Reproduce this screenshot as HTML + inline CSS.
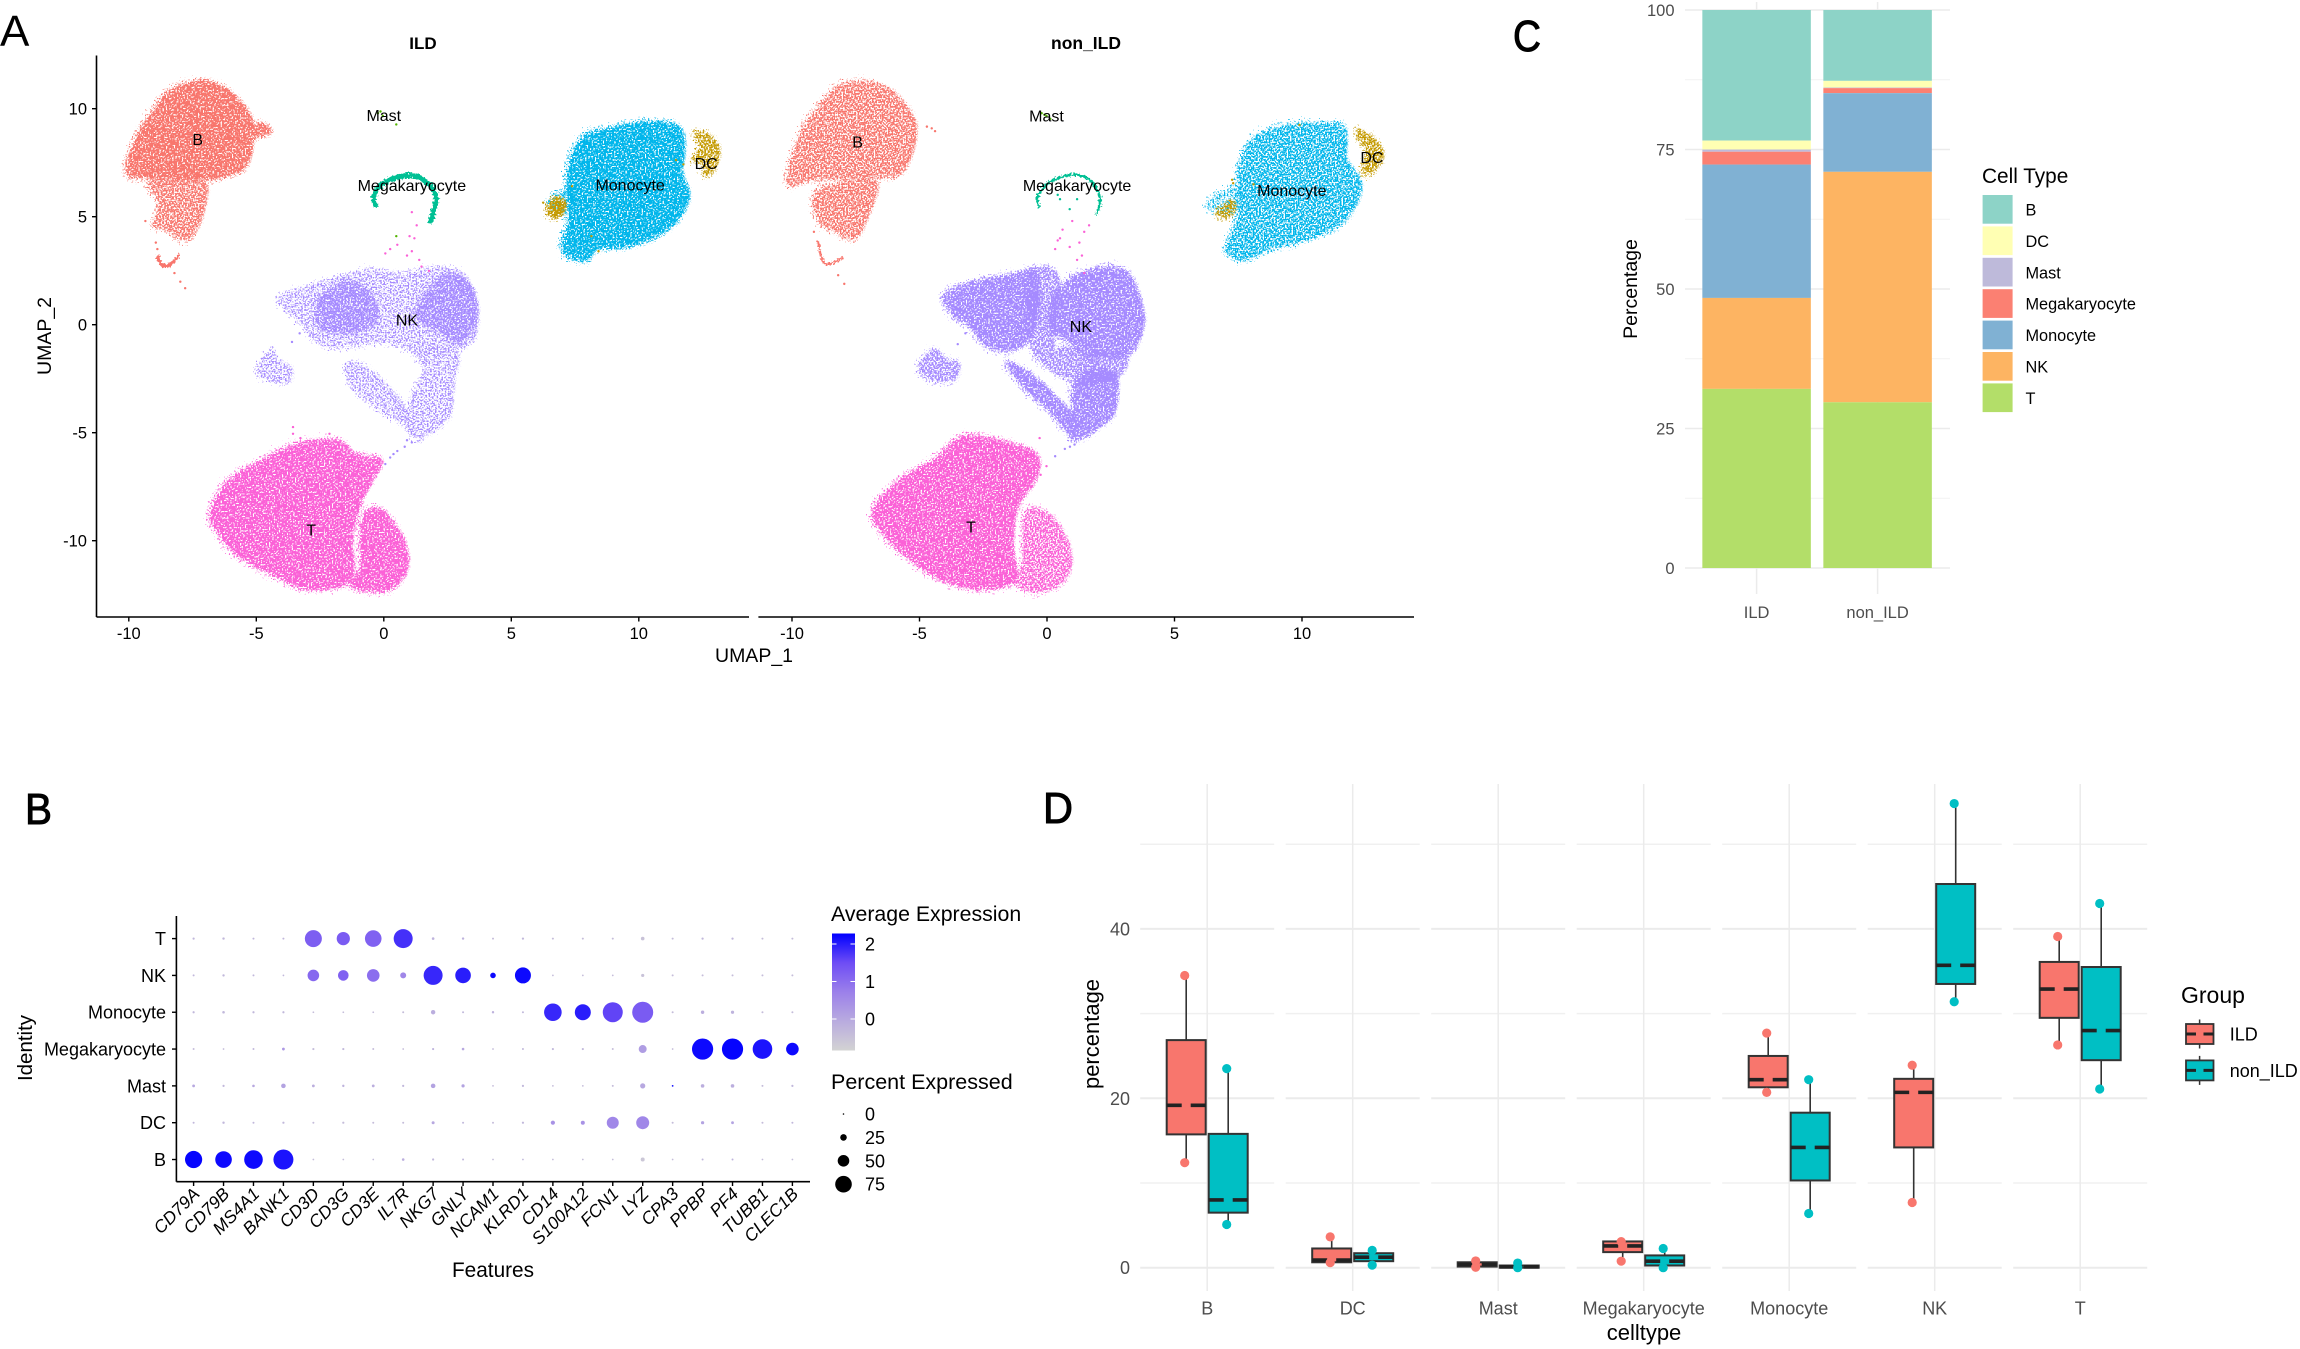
<!DOCTYPE html>
<html lang="en">
<head>
<meta charset="utf-8">
<title>ILD vs non-ILD single-cell figure</title>
<style>
html,body{margin:0;padding:0;background:#fff;width:2300px;height:1349px;overflow:hidden}
svg{display:block;font-family:"Liberation Sans",sans-serif}
</style>
</head>
<body>
<svg id="fig" xmlns="http://www.w3.org/2000/svg" width="2300" height="1349" viewBox="0 0 2300 1349">
<defs>
<filter id="sp-d" x="-10%" y="-10%" width="120%" height="120%" color-interpolation-filters="sRGB">
<feTurbulence type="fractalNoise" baseFrequency="0.62" numOctaves="1" seed="4" result="n"/>
<feDisplacementMap in="SourceGraphic" in2="n" scale="16" xChannelSelector="R" yChannelSelector="G" result="d"/>
<feColorMatrix in="n" type="matrix" values="0 0 0 0 0 0 0 0 0 0 0 0 0 0 0 9 0 0 0 -3.1" result="m"/>
<feComposite in="d" in2="m" operator="in"/>
</filter>
<filter id="sp-m" x="-10%" y="-10%" width="120%" height="120%" color-interpolation-filters="sRGB">
<feTurbulence type="fractalNoise" baseFrequency="0.62" numOctaves="1" seed="9" result="n"/>
<feDisplacementMap in="SourceGraphic" in2="n" scale="16" xChannelSelector="R" yChannelSelector="G" result="d"/>
<feColorMatrix in="n" type="matrix" values="0 0 0 0 0 0 0 0 0 0 0 0 0 0 0 9 0 0 0 -3.7" result="m"/>
<feComposite in="d" in2="m" operator="in"/>
</filter>
<filter id="sp-s" x="-10%" y="-10%" width="120%" height="120%" color-interpolation-filters="sRGB">
<feTurbulence type="fractalNoise" baseFrequency="0.62" numOctaves="1" seed="15" result="n"/>
<feDisplacementMap in="SourceGraphic" in2="n" scale="16" xChannelSelector="R" yChannelSelector="G" result="d"/>
<feColorMatrix in="n" type="matrix" values="0 0 0 0 0 0 0 0 0 0 0 0 0 0 0 9 0 0 0 -4.3" result="m"/>
<feComposite in="d" in2="m" operator="in"/>
</filter>
<filter id="sp-h" x="-15%" y="-15%" width="130%" height="130%" color-interpolation-filters="sRGB">
<feTurbulence type="fractalNoise" baseFrequency="0.62" numOctaves="1" seed="21" result="n"/>
<feDisplacementMap in="SourceGraphic" in2="n" scale="18" xChannelSelector="R" yChannelSelector="G" result="d"/>
<feColorMatrix in="n" type="matrix" values="0 0 0 0 0 0 0 0 0 0 0 0 0 0 0 9 0 0 0 -4.8" result="m"/>
<feComposite in="d" in2="m" operator="in"/>
</filter>
<filter id="rough" x="-15%" y="-15%" width="130%" height="130%" color-interpolation-filters="sRGB">
<feTurbulence type="fractalNoise" baseFrequency="0.5" numOctaves="1" seed="2" result="n"/>
<feDisplacementMap in="SourceGraphic" in2="n" scale="6" xChannelSelector="R" yChannelSelector="G"/>
</filter>
<linearGradient id="expGrad" x1="0" y1="1" x2="0" y2="0">
<stop offset="0" stop-color="#D3D3D3"/>
<stop offset="0.25" stop-color="#B9ABDF"/>
<stop offset="0.5" stop-color="#9B80EA"/>
<stop offset="0.75" stop-color="#6E4DF5"/>
<stop offset="1" stop-color="#0000FF"/>
</linearGradient>
</defs>

<!-- Panel letters -->
<text x="0" y="46" font-size="44" fill="#000">A</text>
<text x="25" y="824" font-size="44" fill="#000" stroke="#000" stroke-width="1" textLength="27" lengthAdjust="spacingAndGlyphs">B</text>
<text x="1513" y="51" font-size="44" fill="#000" stroke="#000" stroke-width="1" textLength="28" lengthAdjust="spacingAndGlyphs">C</text>
<text x="1043" y="823" font-size="44" fill="#000" stroke="#000" stroke-width="1" textLength="30" lengthAdjust="spacingAndGlyphs">D</text>

<!-- Panel A static -->
<g id="panelA">
<text x="423" y="49" font-size="17" font-weight="bold" text-anchor="middle">ILD</text>
<text x="1086" y="49" font-size="17.5" font-weight="bold" text-anchor="middle">non_ILD</text>
<text x="754" y="662" font-size="19.5" text-anchor="middle">UMAP_1</text>
<text transform="translate(51,336) rotate(-90)" font-size="19.5" text-anchor="middle">UMAP_2</text>
<g id="umapLeft"></g>
<g id="umapRight"></g>
</g>

<!-- Panel B static -->
<g id="panelB">
<text x="493" y="1277" font-size="20.8" text-anchor="middle">Features</text>
<text transform="translate(32,1048) rotate(-90)" font-size="20.5" text-anchor="middle">Identity</text>
<text x="831" y="921" font-size="21.3">Average Expression</text>
<rect x="832" y="933.5" width="23" height="117" fill="url(#expGrad)"/>
<text x="831" y="1089" font-size="21.5">Percent Expressed</text>
<g id="dotPlot"></g>
</g>

<!-- Panel C static -->
<g id="panelC">
<text transform="translate(1637,289) rotate(-90)" font-size="19.5" text-anchor="middle">Percentage</text>
<text x="1982" y="183" font-size="20.8">Cell Type</text>
<g id="stackPlot"></g>
</g>

<!-- Panel D static -->
<g id="panelD">
<text transform="translate(1099,1034) rotate(-90)" font-size="22" text-anchor="middle">percentage</text>
<text x="1644" y="1340" font-size="22" text-anchor="middle">celltype</text>
<text x="2181" y="1003" font-size="23">Group</text>
<g id="boxPlot"></g>
</g>
</svg>

<script>
// ---------- Panel A: UMAP cluster footprints, in UMAP units ----------
const umapColors = {B:'#F8766D',DC:'#C49A00',Mast:'#53B400',Megakaryocyte:'#00C094',Monocyte:'#00B6EB',NK:'#A58AFF',T:'#FB61D7'};
const umapAxisTicks = [-10,-5,0,5,10];

const ildBMain = [[-10.08,7.22],[-9.96,7.92],[-9.54,9.03],[-8.97,10.03],[-8.40,10.83],[-7.45,11.28],[-6.69,11.24],[-5.93,10.73],[-5.36,10.03],[-5.02,9.33],[-4.70,9.33],[-4.35,8.96],[-4.70,8.72],[-5.08,8.58],[-5.17,7.82],[-5.55,7.12],[-6.69,6.71],[-7.45,6.77],[-8.59,6.77],[-9.16,6.81],[-9.83,6.81]];
const ildBLower = [[-9.16,6.71],[-7.07,6.71],[-6.98,5.41],[-7.45,4.10],[-7.93,3.96],[-8.50,4.40],[-9.01,4.60],[-8.78,5.61]];
const ildMono = [[7.00,3.60],[7.28,5.01],[7.19,7.02],[7.76,8.62],[8.90,9.13],[10.42,9.43],[11.56,9.23],[11.84,8.42],[11.75,7.02],[12.03,6.01],[11.56,4.80],[10.61,4.00],[9.47,3.56],[8.42,3.50],[8.04,2.99],[7.38,3.04]];
const ildMonoNub = [[6.43,5.71],[7.09,6.21],[7.57,6.21],[7.28,5.01],[6.81,5.41]];
const ildDcRight = [[12.22,8.92],[12.89,8.72],[13.23,8.02],[12.98,7.12],[12.60,6.91],[12.51,7.52],[12.13,7.62],[12.41,8.22]];
const ildDcLeft = [[6.43,5.45],[6.81,5.91],[7.19,5.61],[7.0,5.11],[6.71,4.90],[6.43,5.21]];
const ildNkTop = [[-3.99,1.29],[-2.51,1.89],[-0.61,2.49],[0.72,2.35],[2.43,2.63],[3.29,2.19],[3.67,0.98],[3.76,0.18],[3.48,-0.82],[2.43,-1.23],[1.29,-1.23],[0.15,-0.82],[-1.75,-1.03],[-2.51,-0.82],[-3.27,0.18],[-3.84,0.78]];
const ildNkLobeL = [[-2.51,1.19],[-1.37,1.99],[-0.42,1.39],[-0.23,0.18],[-1.37,-0.42],[-2.51,-0.02]];
const ildNkLobeR = [[1.67,1.39],[2.62,2.39],[3.48,1.79],[3.73,0.38],[3.0,-0.82],[2.05,-0.22],[1.29,0.38]];
const ildNkLeftArm = [[-1.37,-1.83],[-0.61,-2.03],[0.72,-3.54],[0.91,-4.44],[0.15,-4.14],[-1.18,-2.83]];
const ildNkRightArm = [[1.29,-1.23],[2.91,-1.23],[2.81,-2.63],[2.62,-4.24],[1.67,-5.15],[1.29,-5.25],[0.91,-4.44],[1.29,-3.04],[1.67,-2.03]];
const ildNkIsland = [[-4.89,-2.03],[-4.32,-1.13],[-4.13,-1.63],[-3.56,-2.03],[-3.65,-2.63],[-4.13,-2.63],[-4.70,-2.43]];
const ildTLeft = [[-6.79,-8.66],[-6.12,-7.26],[-4.79,-6.25],[-3.27,-5.45],[-1.75,-5.35],[-1.08,-5.95],[-0.04,-6.25],[-0.42,-7.26],[-0.89,-8.36],[-1.18,-9.87],[-1.27,-11.88],[-2.89,-12.28],[-4.22,-11.68],[-5.74,-10.67],[-6.60,-9.47]];
const ildTRight = [[-0.70,-8.66],[-0.04,-8.56],[0.72,-9.67],[1.01,-10.87],[0.72,-11.88],[-0.04,-12.38],[-1.27,-12.12],[-0.89,-11.08],[-0.95,-9.87]];
const ildMegaArc = [[-0.32,5.45],[-0.38,6.01],[0.06,6.61],[1.01,6.91],[1.67,6.61],[2.05,5.91],[1.92,5.11],[1.83,4.70]];
const ildBHook = [[-8.88,3.20],[-8.75,2.85],[-8.45,2.72],[-8.0,3.24]];

const ildStrayT = [[1.10,5.21],[1.29,4.60],[1.01,4.10],[0.53,3.70],[0.25,3.50],[1.10,3.40],[1.39,3.0],[1.48,2.69],[0.91,3.20],[1.2,4.0],[0.06,3.30],[1.77,2.49],[-3.56,-4.74],[-3.56,-5.05],[-3.27,-5.25],[-2.13,-5.05]];
const ildStrayMast = [[-0.23,9.79],[-0.04,9.67],[0.49,9.27],[-0.13,9.87],[0.49,4.10]];
const ildStrayNk = [[1.10,-5.45],[0.82,-5.65],[0.53,-5.85],[0.25,-6.15],[0.06,-6.45],[0.91,-5.35],[0.38,-5.99],[-3.3,-0.4],[-3.6,-0.8]];
const ildStrayB = [[-9.35,4.8],[-8.94,3.80],[-8.88,3.50],[-8.21,2.39],[-7.98,1.99],[-7.79,1.69]];
const ildStrayDc = [[8.42,3.40],[8.14,4.10],[7.38,6.41],[11.75,7.42],[11.46,7.62],[6.25,5.65]];

const nonBMain = [[-10.10,7.22],[-9.56,9.03],[-8.99,10.03],[-8.14,11.04],[-6.90,11.24],[-5.95,10.73],[-5.19,9.63],[-5.10,8.62],[-5.57,7.12],[-6.52,6.81],[-9.18,6.71],[-10.04,6.41]];
const nonBLower = [[-8.99,6.21],[-6.71,6.71],[-6.90,5.21],[-7.47,4.0],[-8.23,4.30],[-8.90,4.80]];
const nonMono = [[7.07,3.60],[7.55,5.21],[7.55,7.22],[8.12,8.62],[9.45,9.23],[10.78,9.33],[11.73,9.13],[11.83,7.62],[12.40,6.41],[11.73,4.80],[10.40,4.0],[8.88,3.50],[7.74,2.99],[7.17,3.30]];
const nonMonoNub = [[6.31,5.57],[7.55,6.41],[7.55,5.21],[6.98,5.21]];
const nonDcRight = [[12.21,9.03],[12.87,8.62],[13.25,7.82],[12.78,7.02],[12.40,7.12],[12.59,8.02],[12.27,8.62]];
const nonDcLeft = [[6.69,5.21],[7.26,5.71],[7.45,5.41],[7.07,4.90],[6.79,5.01]];
const nonNkLobeL = [[-4.05,1.39],[-2.91,1.99],[-1.20,2.39],[-0.44,2.49],[-0.25,0.98],[-0.63,-0.62],[-1.39,-1.23],[-2.34,-1.03],[-3.10,-0.02],[-3.67,0.38]];
const nonNkLobeR = [[0.32,1.39],[1.27,2.39],[2.60,2.69],[3.37,2.19],[3.84,0.58],[3.75,-0.42],[3.17,-1.43],[1.46,-1.43],[0.89,-0.82],[0.13,-0.22]];
const nonNkLowerR = [[1.08,-2.63],[2.03,-2.03],[2.79,-2.43],[2.70,-4.04],[2.22,-4.64],[1.27,-5.35],[0.89,-5.05],[0.99,-3.84]];
const nonNkLeftArm = [[-1.58,-1.73],[-0.63,-2.23],[0.32,-3.24],[1.08,-4.24],[0.89,-5.05],[0.13,-4.04],[-0.82,-3.04]];
const nonNkBridge = [[-0.63,2.39],[0.51,2.19],[0.32,-1.03],[0.89,-1.03],[2.79,-2.43],[1.27,-2.63],[0.13,-2.03],[-0.63,-0.82]];
const nonNkLink = [[1.46,-1.43],[3.17,-1.43],[2.79,-2.43],[1.5,-2.4]];
const nonNkIsland = [[-5.0,-1.93],[-4.43,-1.13],[-3.86,-1.63],[-3.38,-1.83],[-3.57,-2.53],[-4.24,-2.63],[-4.71,-2.43]];
const nonTLeft = [[-6.81,-8.56],[-5.76,-7.16],[-4.43,-6.25],[-3.29,-5.15],[-1.77,-5.35],[-0.34,-6.01],[-0.44,-7.26],[-1.10,-8.46],[-1.29,-10.27],[-1.20,-11.88],[-2.53,-12.28],[-4.05,-11.88],[-5.38,-10.87],[-6.43,-9.67]];
const nonTRight = [[-0.82,-8.66],[0.13,-8.76],[0.89,-10.07],[0.99,-11.28],[0.51,-12.08],[-0.44,-12.38],[-1.20,-11.98],[-0.91,-10.87]];
const nonMegaArc = [[-0.29,5.41],[-0.38,5.91],[0.13,6.61],[1.08,6.95],[1.75,6.61],[2.09,5.81],[1.94,5.11]];
const nonBHook = [[-8.99,3.90],[-8.84,3.10],[-8.61,2.79],[-8.0,3.10]];

const nonStrayT = [[0.32,3.50],[0.42,3.90],[0.61,4.40],[0.99,4.80],[1.46,4.30],[1.27,3.80],[1.37,3.20],[1.18,3.0],[1.46,2.39],[0.51,4.0],[0.89,3.60],[1.65,4.60],[-0.29,-5.25],[-0.02,-6.55],[-0.25,-6.95]];
const nonStrayMast = [[-0.21,9.79],[-0.02,9.67],[0.13,9.53],[-0.1,9.72]];
const nonStrayMega = [[0.51,5.81],[0.89,5.35],[1.18,5.81],[0.42,6.01]];
const nonStrayNk = [[1.08,-5.55],[0.70,-5.75],[0.32,-6.09],[0.9,-5.65],[-3.2,-0.4],[-3.5,-0.9]];
const nonStrayB = [[-4.71,9.17],[-4.52,9.09],[-4.39,8.96],[-8.19,2.29],[-7.95,1.89],[-9.14,4.30]];
const nonStrayDc = [[7.26,6.71],[7.3,6.55],[9.9,9.25],[8.1,6.5]];

const ildLayers = [[ildNkTop,'NK','s'],[ildNkLeftArm,'NK','s'],[ildNkRightArm,'NK','s'],[ildNkIsland,'NK','s'],[ildNkLobeL,'NK','m'],[ildNkLobeR,'NK','m'],[ildBMain,'B','d'],[ildBLower,'B','m'],[ildMono,'Monocyte','d'],[ildMonoNub,'Monocyte','s'],[ildDcRight,'DC','m'],[ildDcLeft,'DC','d'],[ildTLeft,'T','d'],[ildTRight,'T','d']];
const nonLayers = [[nonNkBridge,'NK','m'],[nonNkLink,'NK','m'],[nonNkIsland,'NK','m'],[nonNkLeftArm,'NK','d'],[nonNkLobeL,'NK','d'],[nonNkLobeR,'NK','d'],[nonNkLowerR,'NK','d'],[nonBMain,'B','m'],[nonBLower,'B','m'],[nonMono,'Monocyte','m'],[nonMonoNub,'Monocyte','s'],[nonDcRight,'DC','m'],[nonDcLeft,'DC','m'],[nonTLeft,'T','d'],[nonTRight,'T','m']];
const ildArcs = [[ildMegaArc,'Megakaryocyte',5],[ildBHook,'B',3.5]];
const nonArcs = [[nonMegaArc,'Megakaryocyte',2.6],[nonBHook,'B',2.2]];
const ildStrays = [[ildStrayT,'T'],[ildStrayMast,'Mast'],[ildStrayNk,'NK'],[ildStrayB,'B'],[ildStrayDc,'DC']];
const nonStrays = [[nonStrayT,'T'],[nonStrayMast,'Mast'],[nonStrayMega,'Megakaryocyte'],[nonStrayNk,'NK'],[nonStrayB,'B'],[nonStrayDc,'DC']];
const umapLabelNames = ['B','Mast','Megakaryocyte','Monocyte','DC','NK','T'];
const ildLabelAt = [[-7.3,8.52],[0,9.63],[1.1,6.39],[9.66,6.41],[12.64,7.42],[0.91,0.16],[-2.85,-9.55]];
const nonLabelAt = [[-7.43,8.42],[-0.02,9.61],[1.18,6.39],[9.6,6.17],[12.74,7.7],[1.33,-0.12],[-2.98,-9.41]];

// ---------- Panel B: dot plot ----------
const dotFeatures = ['CD79A','CD79B','MS4A1','BANK1','CD3D','CD3G','CD3E','IL7R','NKG7','GNLY','NCAM1','KLRD1','CD14','S100A12','FCN1','LYZ','CPA3','PPBP','PF4','TUBB1','CLEC1B'];
const dotIdentities = ['T','NK','Monocyte','Megakaryocyte','Mast','DC','B'];
const dotPct = [
[3,4,2,2,77,58,75,87,5,4,2,3,2,2,2,10,2,3,3,2,2],
[2,4,2,1,50,45,55,22,87,70,20,72,1,1,1,8,2,2,2,2,2],
[3,5,3,3,1,1,1,2,14,2,4,2,80,72,92,97,2,9,8,2,2],
[2,1,2,6,3,3,2,1,3,5,1,2,3,3,2,32,1,98,98,90,55],
[6,3,5,15,6,4,6,3,15,8,1,3,1,1,2,18,1,10,10,2,3],
[2,4,2,3,2,3,2,2,7,2,2,3,13,12,52,57,2,8,6,2,2],
[78,75,85,92,1,1,1,5,3,2,1,1,1,1,1,12,1,2,2,1,1]
];
const dotExp = [
[-.3,-.3,-.3,-.3,1.25,1.3,1.2,1.8,-.2,-.2,-.4,-.3,-.4,-.4,-.4,-.5,-.4,-.3,-.3,-.4,-.4],
[-.3,-.3,-.3,-.3,1.1,1.2,1.0,.6,1.9,2.0,2.2,2.2,-.4,-.4,-.4,-.5,-.4,-.4,-.4,-.4,-.4],
[-.3,-.3,-.3,-.3,-.4,-.4,-.4,-.4,-.1,-.3,-.2,-.3,1.9,2.0,1.6,1.3,-.4,-.1,-.2,-.4,-.4],
[-.4,-.4,-.3,.3,-.4,-.3,-.4,-.4,-.2,0,-.4,-.3,-.3,-.3,-.4,.2,-.4,2.2,2.25,2.1,2.2],
[0,-.3,0,.1,-.1,-.2,-.1,-.3,.1,.1,-.4,-.3,-.4,-.4,-.4,0,2.2,-.1,-.1,-.4,-.3],
[-.3,-.3,-.3,-.3,-.4,-.4,-.4,-.4,0,-.3,-.4,-.3,.4,.4,.6,.6,-.4,.1,.1,-.4,-.3],
[2.25,2.2,2.2,2.1,-.4,-.4,-.4,-.1,-.3,-.3,-.4,-.3,-.4,-.4,-.4,-.6,-.4,-.3,-.2,-.4,-.4]
];
const expTicks = [2,1,0];
const pctLegend = [0,25,50,75];

// ---------- Panel C: stacked bars ----------
const stackCats = ['ILD','non_ILD'];
const stackTypes = ['B','DC','Mast','Megakaryocyte','Monocyte','NK','T'];
const stackIld = [23.4,1.6,0.4,2.3,23.9,16.3,32.1];
const stackNon = [12.7,1.2,0.1,0.9,14.1,41.3,29.7];
const stackColors = ['#8DD3C7','#FFFFB3','#BEBADA','#FB8072','#80B1D3','#FDB462','#B3DE69'];
const stackTicks = [0,25,50,75,100];
const stackMinor = [12.5,37.5,62.5,87.5];

// ---------- Panel D: box plots ----------
const boxCats = ['B','DC','Mast','Megakaryocyte','Monocyte','NK','T'];
const boxTicks = [0,20,40];
const boxMinor = [10,30,50];
const ildMin = [12.4,0.6,0.05,0.77,20.7,7.7,26.3];
const ildQ1 = [15.74,0.64,0.13,1.84,21.3,14.2,29.5];
const ildMed = [19.17,0.9,0.39,2.57,22.2,20.7,32.9];
const ildQ3 = [26.87,2.27,0.64,3.1,25,22.3,36.1];
const ildMax = [34.5,3.64,0.8,3.08,27.7,23.9,39.1];
const nonMin = [5.1,0.3,0,0,6.4,31.4,21.1];
const nonQ1 = [6.5,0.77,0,0.26,10.3,33.5,24.5];
const nonMed = [8,1.24,0.1,0.77,14.2,35.7,28];
const nonQ3 = [15.8,1.71,0.26,1.45,18.3,45.3,35.5];
const nonMax = [23.5,2.05,0.55,2.27,22.2,54.8,43];
const boxGroups = ['ILD','non_ILD'];
const boxColors = ['#F8766D','#00BFC4'];

// ---------- helpers ----------
const NS = 'http://www.w3.org/2000/svg';
function mk(parent, tag, attrs, txt){
  const e = document.createElementNS(NS, tag);
  for (const k in attrs) e.setAttribute(k, attrs[k]);
  if (txt !== undefined) e.textContent = txt;
  parent.appendChild(e);
  return e;
}
function smooth(p, closed){
  const n = p.length;
  const at = i => closed ? p[(i+n)%n] : p[Math.max(0,Math.min(n-1,i))];
  let d = 'M'+p[0][0].toFixed(1)+' '+p[0][1].toFixed(1);
  const last = closed ? n : n-1;
  for (let i=0;i<last;i++){
    const a=at(i-1), b=at(i), c=at(i+1), e=at(i+2);
    d += 'C'+(b[0]+(c[0]-a[0])/6).toFixed(1)+' '+(b[1]+(c[1]-a[1])/6).toFixed(1)+' '+(c[0]-(e[0]-b[0])/6).toFixed(1)+' '+(c[1]-(e[1]-b[1])/6).toFixed(1)+' '+c[0].toFixed(1)+' '+c[1].toFixed(1);
  }
  return d + (closed?'Z':'');
}

// ---------- draw Panel A ----------
const umapY = v => 324.7 - 21.6*v;
function drawUmap(g, x0, axisStart, axisEnd, layers, arcs, strays, labelAt, panelKey, drawYAxis){
  const xs = u => x0 + 25.5*u;
  for (const [pts,type,den] of layers){
    const d = smooth(pts.map(q=>[xs(q[0]),umapY(q[1])]),true);
    const h = mk(g,'path',{d:d,fill:'none',stroke:umapColors[type],'stroke-width':5,filter:'url(#sp-h)'});
    
    
    const p = mk(g,'path',{d:d,fill:umapColors[type],filter:'url(#sp-'+den+')'});
    
    
  }
  for (const [pts,type,w] of arcs){
    const p = mk(g,'path',{d:smooth(pts.map(q=>[xs(q[0]),umapY(q[1])]),false),fill:'none',stroke:umapColors[type],'stroke-width':w,filter:'url(#rough)'});
    
    
  }
  for (const [pts,type] of strays){
    for (const q of pts){
      const c = mk(g,'circle',{cx:xs(q[0]),cy:umapY(q[1]),r:1.2,fill:umapColors[type]});
      
      
    }
  }
  umapLabelNames.forEach((name,i)=>{
    const t = mk(g,'text',{x:xs(labelAt[i][0]),y:umapY(labelAt[i][1]),'font-size':16,'text-anchor':'middle','dominant-baseline':'central',fill:'#000'},name);
    
    
  });
  const ax = mk(g,'line',{x1:axisStart,x2:axisEnd,y1:617,y2:617,stroke:'#000','stroke-width':1.6});
  
  
  umapAxisTicks.forEach(v=>{
    const tk = mk(g,'line',{x1:xs(v),x2:xs(v),y1:617,y2:621.5,stroke:'#000','stroke-width':1.4});
    
    
    const t = mk(g,'text',{x:xs(v),y:639,'font-size':16.5,'text-anchor':'middle',fill:'#000'},String(v));
    
    
  });
  if (drawYAxis){
    const ay = mk(g,'line',{x1:96.5,x2:96.5,y1:55.5,y2:617,stroke:'#000','stroke-width':1.6});
    
    
    umapAxisTicks.forEach(v=>{
      const tk = mk(g,'line',{x1:92,x2:96.5,y1:umapY(v),y2:umapY(v),stroke:'#000','stroke-width':1.4});
      
      
      const t = mk(g,'text',{x:87,y:umapY(v)+6,'font-size':16.5,'text-anchor':'end',fill:'#000'},String(v));
      
      
    });
  }
}
drawUmap(document.getElementById('umapLeft'),383.8,96.5,749,ildLayers,ildArcs,ildStrays,ildLabelAt,'ild',true);
drawUmap(document.getElementById('umapRight'),1047,758.4,1414,nonLayers,nonArcs,nonStrays,nonLabelAt,'non-ild',false);

// ---------- draw Panel B ----------
(function(){
  const g = document.getElementById('dotPlot');
  const xd = i => 193.6 + 29.94*i;
  const yd = j => 938.6 + 36.82*j;
  const stops = [[211,211,211],[185,171,223],[155,128,234],[110,77,245],[0,0,255]];
  function expColor(v){
    const t = Math.max(0,Math.min(1,(v+0.83)/3.12))*4;
    const i = Math.min(3,Math.floor(t)), f = t-i;
    const c = stops[i].map((s,k)=>Math.round(s+(stops[i+1][k]-s)*f));
    return 'rgb('+c.join(',')+')';
  }
  const rad = p => 0.8 + 0.1*p;
  dotIdentities.forEach((id,j)=>{
    dotFeatures.forEach((f,i)=>{
      const c = mk(g,'circle',{cx:xd(i),cy:yd(j),r:rad(dotPct[j][i]),fill:expColor(dotExp[j][i])});
      
      
    });
    const tk = mk(g,'line',{x1:172,x2:176.4,y1:yd(j),y2:yd(j),stroke:'#000','stroke-width':1.4});
    
    
    const t = mk(g,'text',{x:166,y:yd(j)+6.5,'font-size':18,'text-anchor':'end',fill:'#000'},id);
    
    
  });
  dotFeatures.forEach((f,i)=>{
    const tk = mk(g,'line',{x1:xd(i),x2:xd(i),y1:1181.7,y2:1186,stroke:'#000','stroke-width':1.4});
    
    
    const t = mk(g,'text',{transform:'translate('+(xd(i)+7)+',1195) rotate(-45)','font-size':17.5,'font-style':'italic','text-anchor':'end',fill:'#000'},f);
    
    
  });
  const ay = mk(g,'line',{x1:176.4,x2:176.4,y1:916,y2:1181.7,stroke:'#000','stroke-width':1.6});
  
  
  const ax = mk(g,'line',{x1:176.4,x2:810,y1:1181.7,y2:1181.7,stroke:'#000','stroke-width':1.6});
  
  
  const cbY = v => 1019 - 37.5*v;
  expTicks.forEach(v=>{
    const a = mk(g,'line',{x1:832,x2:836.5,y1:cbY(v),y2:cbY(v),stroke:'#fff','stroke-width':1});
    
    
    const b = mk(g,'line',{x1:850.5,x2:855,y1:cbY(v),y2:cbY(v),stroke:'#fff','stroke-width':1});
    
    
    const t = mk(g,'text',{x:865,y:cbY(v)+6.5,'font-size':18,fill:'#000'},String(v));
    
    
  });
  pctLegend.forEach((p,i)=>{
    const yy = 1114 + 23.4*i;
    const c = mk(g,'circle',{cx:843.5,cy:yy,r:rad(p),fill:'#000'});
    
    
    const t = mk(g,'text',{x:865,y:yy+6.5,'font-size':18,fill:'#000'},String(p));
    
    
  });
})();

// ---------- draw Panel C ----------
(function(){
  const g = document.getElementById('stackPlot');
  const ys = v => 568 - 5.58*v;
  const centers = [1756.6,1877.6];
  const barW = 108.5;
  stackMinor.forEach(v=>{
    const l = mk(g,'line',{x1:1685,x2:1950,y1:ys(v),y2:ys(v),stroke:'#f2f2f2','stroke-width':1});
    
    
  });
  stackTicks.forEach(v=>{
    const l = mk(g,'line',{x1:1685,x2:1950,y1:ys(v),y2:ys(v),stroke:'#ebebeb','stroke-width':1.5});
    
    
    const t = mk(g,'text',{x:1674.5,y:ys(v)+6,'font-size':16.5,'text-anchor':'end',fill:'#4d4d4d'},String(v));
    
    
  });
  stackCats.forEach((cat,i)=>{
    const l = mk(g,'line',{x1:centers[i],x2:centers[i],y1:2,y2:594,stroke:'#ebebeb','stroke-width':1.5});
    
    
    const t = mk(g,'text',{x:centers[i],y:618,'font-size':16.5,'text-anchor':'middle',fill:'#4d4d4d'},cat);
    
    
  });
  [stackIld,stackNon].forEach((vals,i)=>{
    let top = 100;
    vals.forEach((v,k)=>{
      const r = mk(g,'rect',{x:centers[i]-barW/2,y:ys(top),width:barW,height:5.58*v,fill:stackColors[k]});
      
      
      top -= v;
    });
  });
  stackTypes.forEach((name,k)=>{
    const yy = 195 + 31.4*k;
    const r = mk(g,'rect',{x:1982.6,y:yy,width:30,height:28.7,fill:stackColors[k]});
    
    
    const t = mk(g,'text',{x:2025.5,y:yy+20.5,'font-size':16.3,fill:'#000'},name);
    
    
  });
})();

// ---------- draw Panel D ----------
(function(){
  const g = document.getElementById('boxPlot');
  const ys = v => 1267.7 - 8.47*v;
  const cx = i => 1207.2 + 145.5*i;
  const grid = '#ebebeb';
  boxCats.forEach((cat,i)=>{
    boxMinor.forEach(v=>{
      const l = mk(g,'line',{x1:cx(i)-67,x2:cx(i)+67,y1:ys(v),y2:ys(v),stroke:'#f0f0f0','stroke-width':1.5});
      
      
    });
    boxTicks.forEach(v=>{
      const l = mk(g,'line',{x1:cx(i)-67,x2:cx(i)+67,y1:ys(v),y2:ys(v),stroke:grid,'stroke-width':2});
      
      
    });
    const vl = mk(g,'line',{x1:cx(i),x2:cx(i),y1:784,y2:1291,stroke:grid,'stroke-width':1.5});
    
    
    const t = mk(g,'text',{x:cx(i),y:1314.5,'font-size':18,'text-anchor':'middle',fill:'#4d4d4d'},cat);
    
    
  });
  boxTicks.forEach(v=>{
    const t = mk(g,'text',{x:1130,y:ys(v)+6.5,'font-size':18,'text-anchor':'end',fill:'#4d4d4d'},String(v));
    
    
  });
  const series = [[ildMin,ildQ1,ildMed,ildQ3,ildMax,-21],[nonMin,nonQ1,nonMed,nonQ3,nonMax,21]];
  series.forEach((s,k)=>{
    boxCats.forEach((cat,i)=>{
      const x = cx(i)+s[5];
      const key = boxGroups[k].toLowerCase() + '-' + cat.toLowerCase();
      const wh = mk(g,'line',{x1:x,x2:x,y1:ys(s[4][i]),y2:ys(s[0][i]),stroke:'#333','stroke-width':1.6});
      
      
      const r = mk(g,'rect',{x:x-19.5,y:ys(s[3][i]),width:39,height:ys(s[1][i])-ys(s[3][i]),fill:boxColors[k],stroke:'#333','stroke-width':2});
      
      
      const md = mk(g,'line',{x1:x-19.5,x2:x+19.5,y1:ys(s[2][i]),y2:ys(s[2][i]),stroke:'#222','stroke-width':3.6,'stroke-dasharray':'15 9'});
      
      
      [s[0][i],s[4][i]].forEach(v=>{
        const c = mk(g,'circle',{cx:x-1.5,cy:ys(v),r:4.6,fill:boxColors[k]});
        
        
      });
    });
  });
  boxGroups.forEach((name,k)=>{
    const cy = 1034 + 36.4*k;
    const wh = mk(g,'line',{x1:2199.6,x2:2199.6,y1:cy-14.5,y2:cy+14.5,stroke:'#333','stroke-width':1.5});
    
    
    const r = mk(g,'rect',{x:2186,y:cy-10,width:27.5,height:20,fill:boxColors[k],stroke:'#333','stroke-width':1.8});
    
    
    const m = mk(g,'line',{x1:2186,x2:2213.5,y1:cy,y2:cy,stroke:'#222','stroke-width':3,'stroke-dasharray':'10 7.5'});
    
    
    const t = mk(g,'text',{x:2229.7,y:cy+6.5,'font-size':18,fill:'#000'},name);
    
    
  });
})();
</script>
</body>
</html>
